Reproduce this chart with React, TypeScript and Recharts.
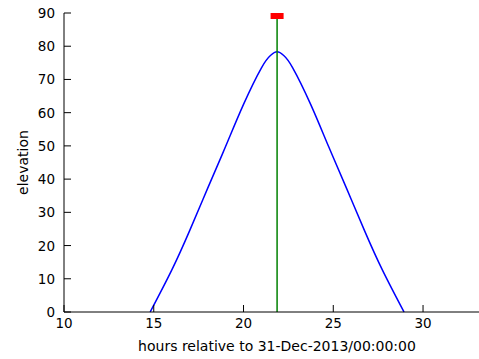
import React from "react";
import {
  ComposedChart,
  Line,
  Scatter,
  XAxis,
  YAxis,
  ReferenceLine,
} from "recharts";

// sun elevation curve
const hours = [14.8, 16.0, 17.0, 18.0, 19.0, 20.0, 21.0, 21.5, 21.87, 22.24, 22.74, 23.74, 24.74, 25.74, 26.74, 27.74, 28.94];
const elevation = [0, 12.6, 24.5, 37.2, 49.8, 62.5, 73.5, 77.2, 78.3, 77.2, 73.5, 62.5, 49.8, 37.2, 24.5, 12.6, 0];

const peakHour = 21.87;
const markerElevation = 90;

const xTicks = [10, 15, 20, 25, 30];
const yTicks = [0, 10, 20, 30, 40, 50, 60, 70, 80, 90];

const curve = hours.map((h, i) => ({ hour: h, elev: elevation[i] }));
const marker = [{ hour: peakHour, top: markerElevation }];

const font = "'DejaVu Sans', sans-serif";

function BottomTick({ x, y, payload }: any) {
  return (
    <g>
      <line x1={x} y1={y} x2={x} y2={y - 7} stroke="#000" />
      <text x={x} y={y + 16} textAnchor="middle" fontSize={13.5} fontFamily={font} fill="#000">
        {payload.value}
      </text>
    </g>
  );
}

function TopTick({ x, y }: any) {
  return <line x1={x} y1={y} x2={x} y2={y + 7} stroke="#000" />;
}

function LeftTick({ x, y, payload }: any) {
  return (
    <g>
      <line x1={x} y1={y} x2={x + 7} y2={y} stroke="#000" />
      <text x={x - 9} y={y + 5} textAnchor="end" fontSize={13.5} fontFamily={font} fill="#000">
        {payload.value}
      </text>
    </g>
  );
}

function RedSquare({ cx, cy }: any) {
  // square marker, only the half inside the axes shows
  return <rect x={cx - 6.5} y={cy} width={13} height={6} fill="#ff0000" />;
}

export default function App() {
  return (
    <div style={{ width: 479, height: 359, overflow: "hidden", background: "#fff" }}>
      <style>{"body{margin:0}"}</style>
      <ComposedChart
        width={520}
        height={359}
        margin={{ top: 13, right: 30, left: 0, bottom: 17 }}
      >
        <XAxis
          xAxisId={0}
          type="number"
          dataKey="hour"
          domain={[10, 33.73]}
          ticks={xTicks}
          allowDataOverflow
          height={30}
          tickSize={0}
          tickMargin={0}
          tickLine={false}
          axisLine={{ stroke: "#000" }}
          tick={<BottomTick />}
          label={{
            content: ({ viewBox }: any) => (
              <text
                x={viewBox.x + viewBox.width / 2}
                y={351}
                textAnchor="middle"
                fontSize={14}
                fontFamily={font}
                fill="#000"
              >
                hours relative to 31-Dec-2013/00:00:00
              </text>
            ),
          }}
        />
        <XAxis
          xAxisId="top"
          orientation="top"
          type="number"
          dataKey="hour"
          domain={[10, 33.73]}
          ticks={xTicks}
          allowDataOverflow
          height={0}
          tickSize={0}
          tickMargin={0}
          tickLine={false}
          axisLine={{ stroke: "#000" }}
          tick={<TopTick />}
        />
        <YAxis
          type="number"
          domain={[0, 90]}
          ticks={yTicks}
          width={64}
          tickSize={0}
          tickMargin={0}
          tickLine={false}
          axisLine={{ stroke: "#000" }}
          tick={<LeftTick />}
          label={{
            content: ({ viewBox }: any) => {
              const cx = 23.5;
              const cy = viewBox.y + viewBox.height / 2;
              return (
                <text
                  x={cx}
                  y={cy}
                  transform={`rotate(-90 ${cx} ${cy})`}
                  textAnchor="middle"
                  dominantBaseline="middle"
                  fontSize={14}
                  fontFamily={font}
                  fill="#000"
                >
                  elevation
                </text>
              );
            },
          }}
        />
        <Line
          data={curve}
          dataKey="elev"
          type="natural"
          stroke="#0000ff"
          strokeWidth={1.5}
          dot={false}
          isAnimationActive={false}
        />
        <ReferenceLine x={peakHour} stroke="#008000" strokeWidth={1.5} />
        <Scatter
          data={marker}
          dataKey="top"
          shape={<RedSquare />}
          isAnimationActive={false}
        />
      </ComposedChart>
    </div>
  );
}
